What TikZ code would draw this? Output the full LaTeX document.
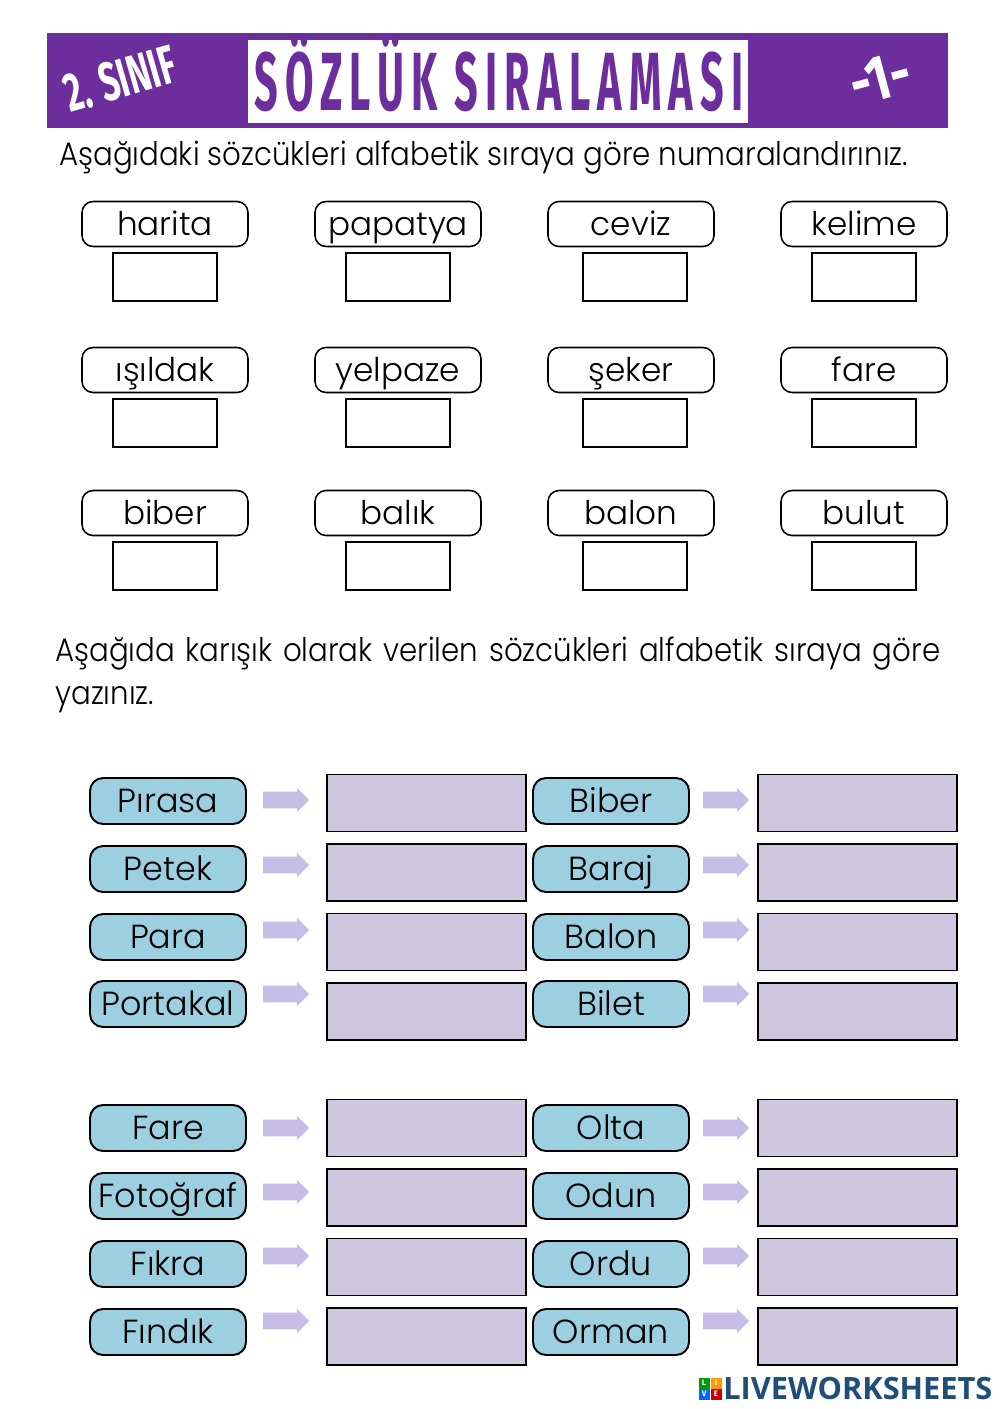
\documentclass[tikz,border=0pt]{standalone}
\usepackage{fontspec}
\setmainfont{Poppins}[UprightFont=* Light,BoldFont=* Bold]
\newfontfamily\headfont[LetterSpace=17.5]{Fira Sans Bold}
\newfontfamily\sidefont{Fira Sans Bold}
\newfontfamily\logofont{Open Sans Bold}
\usetikzlibrary{shapes.arrows}

\definecolor{headpurple}{HTML}{6C2E9C}
\definecolor{tagblue}{HTML}{9CCFE0}
\definecolor{answerlilac}{HTML}{CFC7DF}
\definecolor{arrowlilac}{HTML}{C6BEE6}
\definecolor{logoblue}{HTML}{1F4E79}

\begin{document}
\begin{tikzpicture}[x=0.02cm,y=-0.02cm,node distance=1.06cm,
    word/.style={shape=rectangle,rounded corners=0.22cm,draw=black,line width=0.9pt,minimum width=3.32cm,minimum height=0.9cm,inner sep=0pt,text height=13.6pt,text depth=0pt,font=\fontsize{18.6}{19}\selectfont},
    numbox/.style={shape=rectangle,draw=black,line width=0.8pt,minimum width=2.08cm,minimum height=0.96cm,inner sep=0pt},
    tag/.style={shape=rectangle,rounded corners=0.26cm,draw=black,line width=1.1pt,fill=tagblue,minimum width=3.12cm,minimum height=0.92cm,inner sep=0pt,text height=12.8pt,text depth=0pt,font=\fontsize{19}{19}\selectfont},
    pointer/.style={shape=single arrow,fill=arrowlilac,draw=none,minimum height=0.92cm,minimum width=0.48cm,single arrow head extend=0.08cm,inner xsep=0pt,inner ysep=0.16cm},
    answer/.style={shape=rectangle,draw=black,line width=1.1pt,fill=answerlilac,minimum width=3.98cm,minimum height=1.14cm,inner sep=0pt},
    tile/.style={shape=rectangle,minimum size=0.22cm,inner sep=0pt,text=white,font=\fontsize{4.5}{4.5}\sidefont}]

  \useasboundingbox (0,0) rectangle (1000,1409);

  % header
  \node[shape=rectangle,fill=headpurple,draw=none,minimum width=18.02cm,minimum height=1.9cm] (band) at (497.5,80.5) {};
  \node[shape=rectangle,fill=white,draw=none,minimum width=10cm,minimum height=1.66cm] (strip) at (498,81.5) {};
  \node[text=headpurple,xscale=0.5,transform shape,font=\fontsize{47}{47}\headfont] (title) at (499,73) {SÖZLÜK SIRALAMASI};
  \node[text=white,rotate=16,xscale=0.62,font=\fontsize{31}{31}\sidefont] (grade) at (120,79) {2. SINIF};
  \node[text=white,rotate=15,xscale=0.8,font=\fontsize{36}{36}\sidefont] (part) at (880,78) {-1-};

  \node[anchor=west,inner sep=0pt,xscale=0.9,transform shape,font=\fontsize{18.5}{18.5}\selectfont] (ask1) at (59,158) {Aşağıdaki sözcükleri alfabetik sıraya göre numaralandırınız.};

  % words with number boxes
  \node[word] (w1) at (165,224) {harita};
  \node[word] (w2) at (398,224) {papatya};
  \node[word] (w3) at (631,224) {ceviz};
  \node[word] (w4) at (864,224) {kelime};
  \node[word] (w5) at (165,370) {ışıldak};
  \node[word] (w6) at (398,370) {yelpaze};
  \node[word] (w7) at (631,370) {şeker};
  \node[word] (w8) at (864,370) {fare};
  \node[word] (w9) at (165,513) {biber};
  \node[word] (w10) at (398,513) {balık};
  \node[word] (w11) at (631,513) {balon};
  \node[word] (w12) at (864,513) {bulut};
  \node[numbox] (b1) [below of=w1] {};
  \node[numbox] (b2) [below of=w2] {};
  \node[numbox,xshift=0.08cm] (b3) [below of=w3] {};
  \node[numbox] (b4) [below of=w4] {};
  \node[numbox] (b5) [below of=w5] {};
  \node[numbox] (b6) [below of=w6] {};
  \node[numbox,xshift=0.08cm] (b7) [below of=w7] {};
  \node[numbox] (b8) [below of=w8] {};
  \node[numbox] (b9) [below of=w9] {};
  \node[numbox] (b10) [below of=w10] {};
  \node[numbox,xshift=0.08cm] (b11) [below of=w11] {};
  \node[numbox] (b12) [below of=w12] {};

  \node[anchor=north west,text width=19.67cm,align=justify,inner sep=0pt,xscale=0.9,transform shape,font=\fontsize{18.5}{24}\selectfont] (ask2) at (55,637) {Aşağıda karışık olarak verilen sözcükleri alfabetik sıraya göre\linebreak yazınız.};

  % left column
  \node[tag] (t1) at (168,801) {Pırasa};
  \node[tag] (t2) at (168,869) {Petek};
  \node[tag] (t3) at (168,937) {Para};
  \node[tag] (t4) at (168,1004) {Portakal};
  \node[tag] (t5) at (168,1128) {Fare};
  \node[tag] (t6) at (168,1196) {Fotoğraf};
  \node[tag] (t7) at (168,1264) {Fıkra};
  \node[tag] (t8) at (168,1332) {Fındık};
  \node[pointer] (p1) at (282,800) {};
  \node[pointer] (p2) at (282,865) {};
  \node[pointer] (p3) at (282,930) {};
  \node[pointer] (p4) at (282,994) {};
  \node[pointer] (p5) at (282,1128) {};
  \node[pointer] (p6) at (282,1192) {};
  \node[pointer] (p7) at (282,1256) {};
  \node[pointer] (p8) at (282,1321) {};
  \node[answer] (r1) at (426.5,803) {};
  \node[answer] (r2) at (426.5,872.5) {};
  \node[answer] (r3) at (426.5,942) {};
  \node[answer] (r4) at (426.5,1011.5) {};
  \node[answer] (r5) at (426.5,1128) {};
  \node[answer] (r6) at (426.5,1197.5) {};
  \node[answer] (r7) at (426.5,1267) {};
  \node[answer] (r8) at (426.5,1336.5) {};

  % right column
  \node[tag] (t9) at (611,801) {Biber};
  \node[tag] (t10) at (611,869) {Baraj};
  \node[tag] (t11) at (611,937) {Balon};
  \node[tag] (t12) at (611,1004) {Bilet};
  \node[tag] (t13) at (611,1128) {Olta};
  \node[tag] (t14) at (611,1196) {Odun};
  \node[tag] (t15) at (611,1264) {Ordu};
  \node[tag] (t16) at (611,1332) {Orman};
  \node[pointer] (p9) at (722,800) {};
  \node[pointer] (p10) at (722,865) {};
  \node[pointer] (p11) at (722,930) {};
  \node[pointer] (p12) at (722,994) {};
  \node[pointer] (p13) at (722,1128) {};
  \node[pointer] (p14) at (722,1192) {};
  \node[pointer] (p15) at (722,1256) {};
  \node[pointer] (p16) at (722,1321) {};
  \node[answer] (r9) at (857.5,803) {};
  \node[answer] (r10) at (857.5,872.5) {};
  \node[answer] (r11) at (857.5,942) {};
  \node[answer] (r12) at (857.5,1011.5) {};
  \node[answer] (r13) at (857.5,1128) {};
  \node[answer] (r14) at (857.5,1197.5) {};
  \node[answer] (r15) at (857.5,1267) {};
  \node[answer] (r16) at (857.5,1336.5) {};

  % logo
  \node[tile,fill=green!60!black] (l1) at (704,1383) {L};
  \node[tile,fill=orange!80!yellow] (l2) at (716,1383) {I};
  \node[tile,fill=blue!60!cyan] (l3) at (704,1394) {V};
  \node[tile,fill=red!80!black] (l4) at (716,1394) {E};
  \node[anchor=west,inner sep=0pt,text=logoblue,font=\fontsize{17.5}{17.5}\logofont] (brand) at (723,1388) {LIVEWORKSHEETS};
\end{tikzpicture}
\end{document}
